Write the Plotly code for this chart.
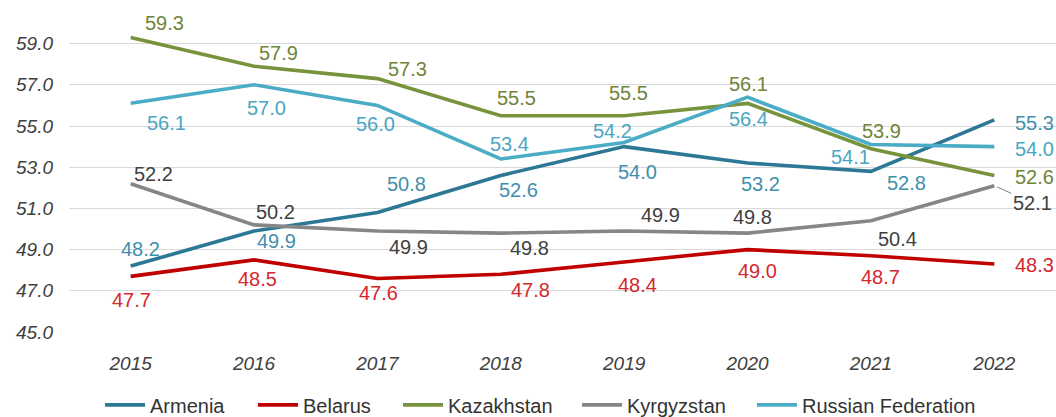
import plotly.graph_objects as go

years = ["2015", "2016", "2017", "2018", "2019", "2020", "2021", "2022"]
armenia = [48.2, 49.9, 50.8, 52.6, 54.0, 53.2, 52.8, 55.3]
belarus = [47.7, 48.5, 47.6, 47.8, 48.4, 49.0, 48.7, 48.3]
kazakhstan = [59.3, 57.9, 57.3, 55.5, 55.5, 56.1, 53.9, 52.6]
kyrgyzstan = [52.2, 50.2, 49.9, 49.8, 49.9, 49.8, 50.4, 52.1]
russia = [56.1, 57.0, 56.0, 53.4, 54.2, 56.4, 54.1, 54.0]
y_ticks = [45, 47, 49, 51, 53, 55, 57, 59]

series = [
    ("Armenia", armenia, "#2C7895", "#3F8FAC"),
    ("Belarus", belarus, "#C00000", "#D4282D"),
    ("Kazakhstan", kazakhstan, "#77933C", "#6E8438"),
    ("Kyrgyzstan", kyrgyzstan, "#868686", "#3F3F3F"),
    ("Russian Federation", russia, "#4BACC6", "#4AA6C2"),
]

# label pixel offsets (dx right, dy down) relative to each point
label_offsets = {
    "Armenia": [(10, -17), (22, 10), (29, -29), (18, 15), (13, 25), (13, 21), (36, 12), (40, 3)],
    "Belarus": [(1, 24), (3, 19), (1, 15), (30, 16), (13, 23), (10, 21), (10, 21), (40, 1)],
    "Kazakhstan": [(34, -14), (24, -13), (30, -10), (16, -18), (4, -23), (1, -19), (11, -18), (40, 2)],
    "Kyrgyzstan": [(23, -10), (21, -13), (31, 16), (29, 15), (36, -16), (5, -16), (27, 18), (38, 17)],
    "Russian Federation": [(36, 20), (12, 23), (-2, 19), (9, -15), (-12, -11), (1, 22), (-20, 12), (40, 2)],
}
leader_labels = {("Kyrgyzstan", 7)}
# left edge (px) of each legend entry
legend_left_px = [100, 253, 398, 577, 752]

FONT = "Liberation Sans, Arial, sans-serif"
W, H = 1056, 417

fig = go.Figure()
annotations = []
legends = {}
for k, (name, vals, lc, tc) in enumerate(series):
    lname = "legend" if k == 0 else f"legend{k + 1}"
    fig.add_trace(go.Scatter(
        x=years, y=vals, name=name, mode="lines",
        line=dict(color=lc, width=3.6),
        hoverinfo="skip", legend=lname,
    ))
    legends[lname] = dict(
        orientation="h", x=legend_left_px[k] / W, xanchor="left", xref="container",
        y=0.029, yanchor="middle", yref="container",
        font=dict(family=FONT, size=20, color="#333333"),
        bgcolor="rgba(0,0,0,0)", itemwidth=40,
    )
    for i, v in enumerate(vals):
        dx, dy = label_offsets[name][i]
        if (name, i) in leader_labels:
            annotations.append(dict(
                x=i, y=v, xref="x", yref="y", text=f"{v:.1f}",
                showarrow=True, arrowhead=0, arrowwidth=1, arrowcolor="#7F7F7F",
                ax=dx, ay=dy, standoff=3,
                font=dict(family=FONT, size=20, color=tc),
            ))
        else:
            annotations.append(dict(
                x=i, y=v, xref="x", yref="y", text=f"{v:.1f}",
                showarrow=False, xanchor="center", yanchor="middle",
                xshift=dx, yshift=-dy,
                font=dict(family=FONT, size=20, color=tc),
            ))

fig.update_layout(
    width=W, height=H,
    margin=dict(l=69, r=0, t=23, b=85),
    plot_bgcolor="white", paper_bgcolor="white",
    annotations=annotations,
    showlegend=True,
    **legends,
    xaxis=dict(
        type="category", range=[-0.5, len(years) - 0.5], autorange=False,
        showgrid=False, zeroline=False, showline=False,
        tickfont=dict(family=FONT, size=19, color="#404040", style="italic"),
        ticks="", ticklabelstandoff=18,
    ),
    yaxis=dict(
        range=[45, 60], tickvals=y_ticks, ticktext=[f"{t:.1f}" for t in y_ticks],
        showgrid=True, gridcolor="#D9D9D9", gridwidth=1,
        zeroline=False, showline=False, ticks="",
        tickfont=dict(family=FONT, size=19, color="#404040", style="italic"),
        ticklabelstandoff=15,
    ),
)

fig.write_html("out.html")
